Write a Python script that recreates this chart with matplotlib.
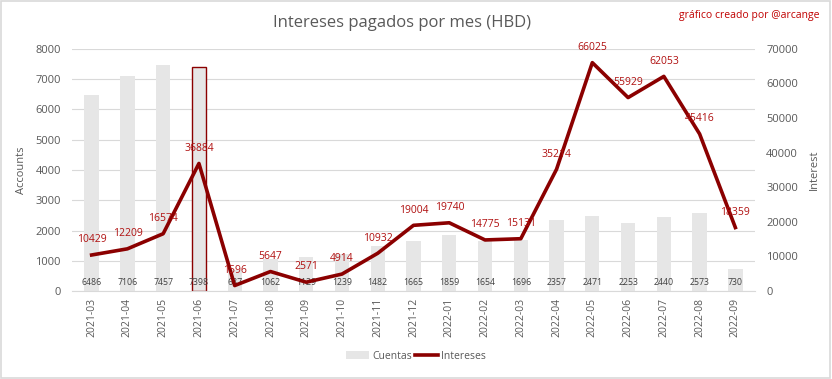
import matplotlib
matplotlib.use("Agg")
import matplotlib.pyplot as plt
from matplotlib.patches import Rectangle

months = ["2021-03", "2021-04", "2021-05", "2021-06", "2021-07", "2021-08", "2021-09",
          "2021-10", "2021-11", "2021-12", "2022-01", "2022-02", "2022-03", "2022-04",
          "2022-05", "2022-06", "2022-07", "2022-08", "2022-09"]
cuentas = [6486, 7106, 7457, 7398, 687, 1062, 1129, 1239, 1482, 1665, 1859, 1654, 1696,
           2357, 2471, 2253, 2440, 2573, 730]
intereses = [10429, 12209, 16574, 36884, 1596, 5647, 2571, 4914, 10932, 19004, 19740,
             14775, 15131, 35214, 66025, 55929, 62053, 45416, 18359]
highlight = "2021-06"

plt.rcParams['font.family'] = ['Open Sans', 'DejaVu Sans']

fig = plt.figure(figsize=(8.32, 3.79), dpi=100)
ax = fig.add_axes([0.0865, 0.232, 0.821, 0.639])
ax2 = ax.twinx()

x = list(range(len(months)))
bar_color = "#E6E6E6"
line_color = "#8B0000"
label_red = "#B01010"
gray = "#595959"

bars = ax.bar(x, cuentas, width=0.4, color=bar_color, zorder=2, label="Cuentas")
for i, m in enumerate(months):
    if m == highlight:
        bars[i].set_edgecolor(line_color)
        bars[i].set_linewidth(1.0)
    ax.text(i, 270, str(cuentas[i]), ha="center", va="center", fontsize=6.3, color="#404040", zorder=5)

ax.set_ylim(0, 8000)
ax.set_yticks(range(0, 8001, 1000))
ax.set_xlim(-0.55, len(months) - 0.45)
ax.set_xticks(x)
ax.set_xticklabels(months, rotation=90, fontsize=7.5, color=gray)
ax.yaxis.grid(True, color="#D9D9D9", linewidth=0.8, zorder=0)
ax.set_axisbelow(True)

line, = ax2.plot(x, intereses, color=line_color, linewidth=2.6, zorder=4, label="Intereses")
for i, v in enumerate(intereses):
    ax2.annotate(str(v), (i, v), xytext=(0, 7), textcoords="offset points",
                 ha="center", va="bottom", fontsize=7.5, color=label_red, zorder=6)
ax2.set_ylim(0, 70000)
ax2.set_yticks(range(0, 70001, 10000))

ax.set_zorder(1)
ax2.set_zorder(2)
ax.patch.set_visible(False)

for a in (ax, ax2):
    for s in a.spines.values():
        s.set_visible(False)
    a.tick_params(length=0, labelsize=8, labelcolor=gray)
ax.spines["bottom"].set_visible(True)
ax.spines["bottom"].set_color("#D9D9D9")
ax.tick_params(axis="x", labelsize=7.5, pad=5)
ax.tick_params(axis="y", pad=8)
ax2.tick_params(axis="y", pad=8)

ax.set_ylabel("Accounts", fontsize=8, color=gray, labelpad=6)
ax2.set_ylabel("Interest", fontsize=8, color=gray, labelpad=8)

fig.text(0.483, 0.94, "Intereses pagados por mes (HBD)", ha="center", va="center",
         fontsize=12, color="#595959")
fig.text(0.985, 0.96, "gráfico creado por @arcange", ha="right", va="center",
         fontsize=7.5, color="#C00000")

fig.legend([bars, line], ["Cuentas", "Intereses"], loc="center", bbox_to_anchor=(0.5, 0.06),
           ncol=2, frameon=False, fontsize=7.5, labelcolor=gray, handlelength=2.2,
           columnspacing=0.3, handletextpad=0.3)

fig.patches.append(Rectangle((0.001, 0.002), 0.997, 0.995, transform=fig.transFigure,
                             fill=False, edgecolor="#D9D9D9", linewidth=1.2))

fig.savefig("out.png", dpi=100)
